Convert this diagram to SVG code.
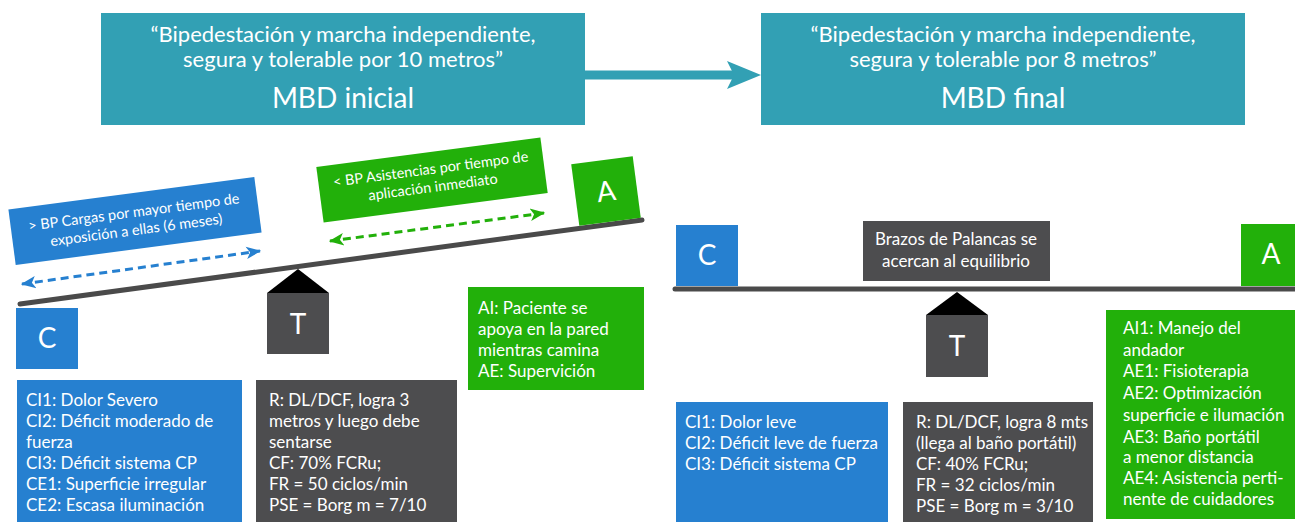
<svg xmlns="http://www.w3.org/2000/svg" width="1295" height="522" viewBox="0 0 1295 522">
<defs>
<style>
text{font-family:Lato,"Liberation Sans",sans-serif;fill:#fff}
.teal{fill:#32A0B4}
.blue{fill:#2680D0}
.green{fill:#22B00A}
.gray{fill:#4D4D4F}
.lever{stroke:#4A4A4A;stroke-width:5;stroke-linecap:round;fill:none}
.big{font-size:28px;text-anchor:middle}
.q{font-size:22px;text-anchor:middle}
.mbd{font-size:28px;text-anchor:middle}
.body{font-size:17px}
.lab{font-size:14.5px;text-anchor:middle}
.c{font-size:17px;text-anchor:middle}
</style>
<marker id="ab" viewBox="0 0 12 10" refX="11" refY="5" markerWidth="5" markerHeight="5" orient="auto-start-reverse" markerUnits="strokeWidth"><path d="M0,0 L12,5 L0,10 L3,5 Z" fill="#2680D0"/></marker>
<marker id="ag" viewBox="0 0 12 10" refX="11" refY="5" markerWidth="5" markerHeight="5" orient="auto-start-reverse" markerUnits="strokeWidth"><path d="M0,0 L12,5 L0,10 L3,5 Z" fill="#22B00A"/></marker>
</defs>

<g id="mbd-inicial">
<rect class="teal" x="101" y="13" width="484" height="112"/>
<text class="q" x="343" y="42">“Bipedestación y marcha independiente,</text>
<text class="q" x="343" y="67">segura y tolerable por 10 metros”</text>
<text class="mbd" x="343" y="108">MBD inicial</text>
</g>
<g id="mbd-final">
<rect class="teal" x="761" y="13" width="484" height="112"/>
<text class="q" x="1003" y="42">“Bipedestación y marcha independiente,</text>
<text class="q" x="1003" y="67">segura y tolerable por 8 metros”</text>
<text class="mbd" x="1003" y="108">MBD final</text>
</g>

<g id="connectors">
<line x1="585" y1="75" x2="735" y2="75" stroke="#32A0B4" stroke-width="9"/>
<path d="M727,61 L761,75 L727,89 L734,75 Z" fill="#32A0B4"/>
<line x1="22" y1="284" x2="260" y2="251" stroke="#2680D0" stroke-width="3" stroke-dasharray="8,5" marker-start="url(#ab)" marker-end="url(#ab)"/>
<line x1="330" y1="241" x2="544" y2="213" stroke="#22B00A" stroke-width="3" stroke-dasharray="8,5" marker-start="url(#ag)" marker-end="url(#ag)"/>
</g>

<g id="lever-left">
<line class="lever" x1="20" y1="304" x2="642" y2="220"/>
</g>
<g id="lever-right">
<line class="lever" x1="675" y1="289" x2="1300" y2="289"/>
</g>

<g id="label-cargas" transform="translate(135,221) rotate(-7.5)">
<rect class="blue" x="-124" y="-28" width="248" height="56"/>
<text class="lab" x="0" y="-4">&gt; BP Cargas por mayor tiempo de</text>
<text class="lab" x="0" y="14">exposición a ellas (6 meses)</text>
</g>
<g id="label-asistencias" transform="translate(432,180) rotate(-7.5)">
<rect class="green" x="-113" y="-28" width="226" height="56"/>
<text class="lab" x="0" y="-6">&lt; BP Asistencias por tiempo de</text>
<text class="lab" x="0" y="12">aplicación inmediato</text>
</g>

<g id="A-left" transform="translate(606,191) rotate(-7.5)">
<rect class="green" x="-31" y="-31" width="62" height="62"/>
<text class="big" x="0" y="10">A</text>
</g>
<g id="C-left">
<rect class="blue" x="16" y="308" width="62" height="61"/>
<text class="big" x="47" y="348">C</text>
</g>
<g id="T-left">
<path d="M298,269 L267,293 L329,293 Z" fill="#000"/>
<rect class="gray" x="267" y="293" width="62" height="61"/>
<text class="big" x="298" y="334">T</text>
</g>

<g id="C-left-text">
<rect class="blue" x="17" y="380" width="225" height="142"/>
<text class="body" x="26" y="406">CI1: Dolor Severo</text>
<text class="body" x="26" y="427">CI2: Déficit moderado de</text>
<text class="body" x="26" y="448">fuerza</text>
<text class="body" x="26" y="469">CI3: Déficit sistema CP</text>
<text class="body" x="26" y="490">CE1: Superficie irregular</text>
<text class="body" x="26" y="511">CE2: Escasa iluminación</text>
</g>
<g id="T-left-text">
<rect class="gray" x="256" y="380" width="201" height="142"/>
<text class="body" x="269" y="406">R: DL/DCF, logra 3</text>
<text class="body" x="269" y="427">metros y luego debe</text>
<text class="body" x="269" y="448">sentarse</text>
<text class="body" x="269" y="469">CF: 70% FCRu;</text>
<text class="body" x="269" y="490">FR = 50 ciclos/min</text>
<text class="body" x="269" y="511">PSE = Borg m = 7/10</text>
</g>
<g id="A-left-text">
<rect class="green" x="468" y="287" width="176" height="103"/>
<text class="body" x="478" y="314">AI: Paciente se</text>
<text class="body" x="478" y="335">apoya en la pared</text>
<text class="body" x="478" y="356">mientras camina</text>
<text class="body" x="478" y="377">AE: Supervición</text>
</g>

<g id="C-right">
<rect class="blue" x="676" y="225" width="62" height="61"/>
<text class="big" x="707" y="265">C</text>
</g>
<g id="equilibrio">
<rect class="gray" x="863" y="221" width="187" height="60"/>
<text class="c" x="956" y="245">Brazos de Palancas se</text>
<text class="c" x="956" y="267">acercan al equilibrio</text>
</g>
<g id="A-right">
<rect class="green" x="1241" y="224" width="54" height="62"/>
<text class="big" x="1271" y="264">A</text>
</g>
<g id="T-right">
<path d="M957,292 L926,315 L988,315 Z" fill="#000"/>
<rect class="gray" x="926" y="315" width="62" height="62"/>
<text class="big" x="957" y="356">T</text>
</g>

<g id="C-right-text">
<rect class="blue" x="676" y="402" width="212" height="120"/>
<text class="body" x="685" y="428">CI1: Dolor leve</text>
<text class="body" x="685" y="449">CI2: Déficit leve de fuerza</text>
<text class="body" x="685" y="470">CI3: Déficit sistema CP</text>
</g>
<g id="T-right-text">
<rect class="gray" x="903" y="402" width="190" height="120"/>
<text class="body" x="916" y="428">R: DL/DCF, logra 8 mts</text>
<text class="body" x="916" y="449">(llega al baño portátil)</text>
<text class="body" x="916" y="470">CF: 40% FCRu;</text>
<text class="body" x="916" y="491">FR = 32 ciclos/min</text>
<text class="body" x="916" y="512">PSE = Borg m = 3/10</text>
</g>
<g id="A-right-text">
<rect class="green" x="1106" y="310" width="189" height="209"/>
<text class="body" x="1123" y="334">AI1: Manejo del</text>
<text class="body" x="1123" y="356">andador</text>
<text class="body" x="1123" y="377">AE1: Fisioterapia</text>
<text class="body" x="1123" y="399">AE2: Optimización</text>
<text class="body" x="1123" y="421">superficie e ilumación</text>
<text class="body" x="1123" y="443">AE3: Baño portátil</text>
<text class="body" x="1123" y="463">a menor distancia</text>
<text class="body" x="1123" y="484">AE4: Asistencia perti-</text>
<text class="body" x="1123" y="505">nente de cuidadores</text>
</g>
</svg>
